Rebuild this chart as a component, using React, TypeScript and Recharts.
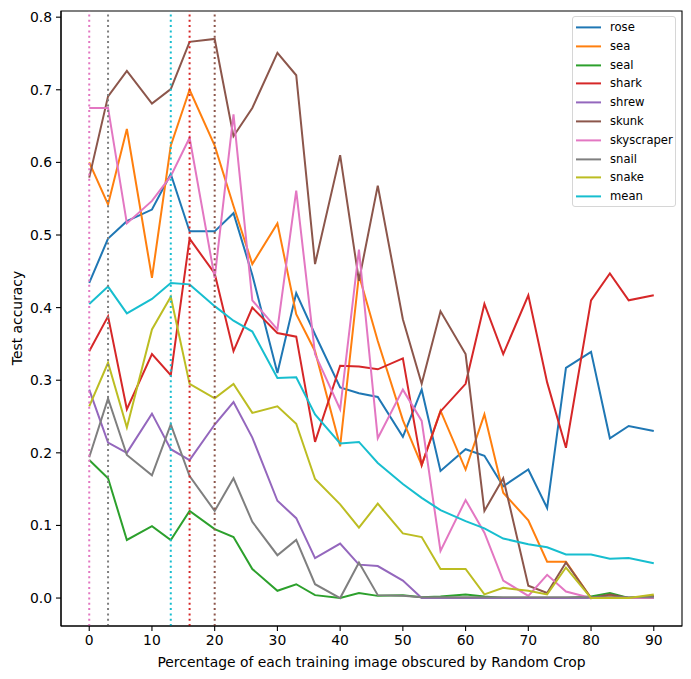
import React from 'react';
import { LineChart, Line, XAxis, YAxis, ReferenceLine, ReferenceArea, Legend, Label } from 'recharts';

const xValues = [0, 3, 6, 10, 13, 16, 20, 23, 26, 30, 33, 36, 40, 43, 46, 50, 53, 56, 60, 63, 66, 70, 73, 76, 80, 83, 86, 90];

const rose = [0.434, 0.495, 0.519, 0.535, 0.584, 0.505, 0.505, 0.530, 0.445, 0.310, 0.420, 0.363, 0.290, 0.282, 0.277, 0.222, 0.287, 0.175, 0.205, 0.196, 0.154, 0.177, 0.124, 0.317, 0.339, 0.220, 0.237, 0.230];
const sea = [0.600, 0.542, 0.646, 0.441, 0.623, 0.700, 0.623, 0.540, 0.460, 0.516, 0.391, 0.340, 0.209, 0.445, 0.354, 0.245, 0.183, 0.258, 0.177, 0.253, 0.145, 0.107, 0.050, 0.050, 0.000, 0.004, 0.000, 0.003];
const seal = [0.190, 0.165, 0.080, 0.099, 0.080, 0.120, 0.095, 0.084, 0.040, 0.010, 0.019, 0.004, 0.000, 0.007, 0.003, 0.004, 0.001, 0.002, 0.005, 0.002, 0.000, 0.000, 0.000, 0.000, 0.002, 0.007, 0.000, 0.002];
const shark = [0.340, 0.388, 0.260, 0.336, 0.307, 0.495, 0.447, 0.340, 0.400, 0.365, 0.360, 0.215, 0.320, 0.319, 0.315, 0.330, 0.183, 0.257, 0.295, 0.405, 0.336, 0.417, 0.297, 0.207, 0.410, 0.447, 0.410, 0.417];
const shrew = [0.287, 0.214, 0.200, 0.254, 0.205, 0.190, 0.239, 0.270, 0.221, 0.134, 0.110, 0.055, 0.075, 0.046, 0.044, 0.024, 0.000, 0.000, 0.000, 0.000, 0.000, 0.000, 0.000, 0.000, 0.000, 0.000, 0.000, 0.000];
const skunk = [0.579, 0.691, 0.726, 0.681, 0.701, 0.766, 0.770, 0.636, 0.675, 0.751, 0.720, 0.460, 0.610, 0.437, 0.568, 0.384, 0.295, 0.395, 0.336, 0.120, 0.165, 0.017, 0.007, 0.049, 0.000, 0.005, 0.000, 0.002];
const skyscraper = [0.675, 0.675, 0.516, 0.547, 0.581, 0.634, 0.441, 0.666, 0.410, 0.370, 0.561, 0.336, 0.260, 0.480, 0.220, 0.287, 0.244, 0.065, 0.135, 0.090, 0.024, 0.003, 0.032, 0.009, 0.000, 0.000, 0.000, 0.000];
const snail = [0.194, 0.275, 0.197, 0.169, 0.239, 0.168, 0.120, 0.165, 0.105, 0.059, 0.080, 0.019, 0.000, 0.049, 0.004, 0.003, 0.001, 0.001, 0.001, 0.001, 0.001, 0.001, 0.001, 0.001, 0.001, 0.001, 0.001, 0.001];
const snake = [0.264, 0.324, 0.235, 0.370, 0.415, 0.295, 0.275, 0.295, 0.255, 0.264, 0.240, 0.164, 0.129, 0.097, 0.130, 0.089, 0.084, 0.040, 0.040, 0.005, 0.014, 0.010, 0.005, 0.042, 0.000, 0.000, 0.000, 0.005];
const mean = [0.405, 0.429, 0.392, 0.412, 0.434, 0.432, 0.402, 0.382, 0.367, 0.303, 0.304, 0.253, 0.213, 0.215, 0.186, 0.157, 0.138, 0.121, 0.106, 0.096, 0.082, 0.074, 0.070, 0.060, 0.060, 0.054, 0.055, 0.048];

const xTicks = [0, 10, 20, 30, 40, 50, 60, 70, 80, 90];
const yTicks = [0, 0.1, 0.2, 0.3, 0.4, 0.5, 0.6, 0.7, 0.8];

const seriesNames = ['rose', 'sea', 'seal', 'shark', 'shrew', 'skunk', 'skyscraper', 'snail', 'snake', 'mean'];
const seriesValues = [rose, sea, seal, shark, shrew, skunk, skyscraper, snail, snake, mean];
const colors = ['#1f77b4', '#ff7f0e', '#2ca02c', '#d62728', '#9467bd', '#8c564b', '#e377c2', '#7f7f7f', '#bcbd22', '#17becf'];

const data = xValues.map((x, i) => {
  const row: Record<string, number> = { x };
  seriesNames.forEach((n, k) => { row[n] = seriesValues[k][i]; });
  return row;
});

// x position of each series' best accuracy; later series drawn on top hide earlier ones at the same x
const argmaxX = seriesValues.map((vals) => {
  let best = 0;
  vals.forEach((v, i) => { if (v > vals[best]) best = i; });
  return xValues[best];
});
const peakLines: { x: number; color: string }[] = [];
argmaxX.forEach((x, k) => {
  const idx = peakLines.findIndex((p) => p.x === x);
  if (idx >= 0) peakLines.splice(idx, 1);
  peakLines.push({ x, color: colors[k] });
});

const FONT = 'DejaVu Sans';
const X_MIN = -4.5, X_MAX = 94.5, Y_MIN = -0.0385, Y_MAX = 0.8085;

const renderLegend = () => (
  <div style={{
    width: 104, height: 191, boxSizing: 'border-box', border: '1px solid #d6d6d6', borderRadius: 3,
    background: 'rgba(255,255,255,0.8)', fontFamily: FONT, fontSize: 11.6, color: '#000', paddingTop: 1,
  }}>
    {seriesNames.map((n, k) => (
      <div key={n} style={{ height: 18.8, display: 'flex', alignItems: 'center', position: 'relative' }}>
        <svg width={32} height={18.8} style={{ display: 'block' }}>
          <line x1={3} x2={28} y1={9.4} y2={9.4} stroke={colors[k]} strokeWidth={2} />
        </svg>
        <span style={{ marginLeft: 5, lineHeight: '18.8px' }}>{n}</span>
      </div>
    ))}
  </div>
);

export default function App() {
  return (
    <div style={{ position: 'absolute', left: 0, top: 0, width: 691, height: 679, background: '#fff' }}>
      <LineChart width={691} height={679} data={data} margin={{ top: 11, right: 9, bottom: 0, left: 0 }}>
        <XAxis
          dataKey="x" type="number" domain={[X_MIN, X_MAX]} ticks={xTicks} allowDataOverflow
          height={53} tickSize={5} tickMargin={4}
          tick={{ fontFamily: FONT, fontSize: 13.9, fill: '#000' }}
          axisLine={{ stroke: '#000', strokeWidth: 1.1 }} tickLine={{ stroke: '#000', strokeWidth: 1.1 }}
        >
          <Label content={() => (
            <text x={371.5} y={667} textAnchor="middle" fontFamily={FONT} fontSize={13.9} fill="#000">
              Percentage of each training image obscured by Random Crop
            </text>
          )} />
        </XAxis>
        <YAxis
          type="number" domain={[Y_MIN, Y_MAX]} ticks={yTicks} allowDataOverflow
          width={61} tickSize={5} tickMargin={4}
          tickFormatter={(v: number) => v.toFixed(1)}
          tick={{ fontFamily: FONT, fontSize: 13.9, fill: '#000' }}
          axisLine={{ stroke: '#000', strokeWidth: 1.1 }} tickLine={{ stroke: '#000', strokeWidth: 1.1 }}
        >
          <Label content={() => (
            <text x={22} y={318} transform="rotate(-90 22 318)" textAnchor="middle" fontFamily={FONT} fontSize={13.9} fill="#000">
              Test accuracy
            </text>
          )} />
        </YAxis>
        {seriesNames.map((n, k) => (
          <Line key={n} dataKey={n} stroke={colors[k]} strokeWidth={2} dot={false} isAnimationActive={false} type="linear" />
        ))}
        {peakLines.map((p) => (
          <ReferenceLine key={'v' + p.x} x={p.x} stroke={p.color} strokeWidth={2} strokeDasharray="2 3.3" />
        ))}
        <ReferenceArea x1={X_MIN} x2={X_MAX} y1={Y_MIN} y2={Y_MAX} fill="none" stroke="#000" strokeWidth={1.1} />
        <Legend
          layout="vertical" align="center" verticalAlign="middle" content={renderLegend}
          wrapperStyle={{ position: 'absolute', left: 572, top: 16, width: 104, height: 191 }}
        />
      </LineChart>
    </div>
  );
}
